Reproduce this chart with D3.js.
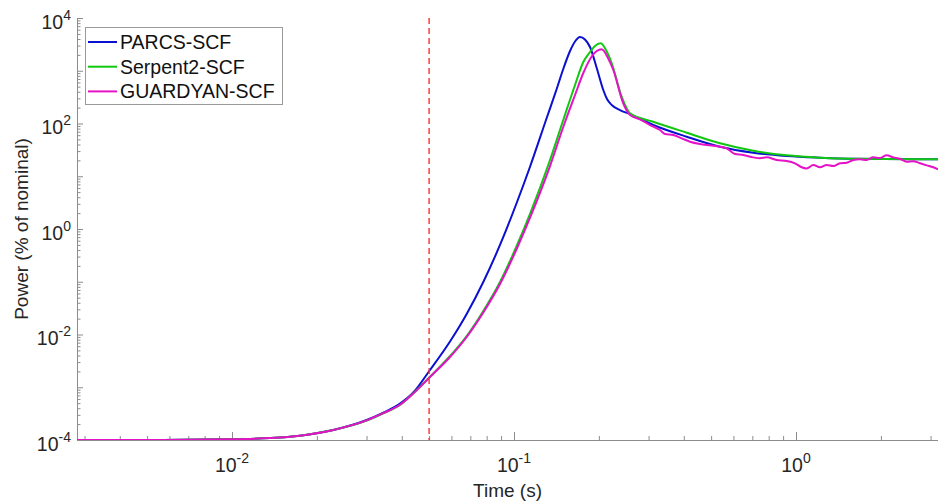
<!DOCTYPE html>
<html><head><meta charset="utf-8">
<script src="https://cdn.jsdelivr.net/npm/d3@7"></script>
<style>
body{margin:0;background:#fff}
svg{display:block}
text{font-family:"Liberation Sans",Arial,Helvetica,sans-serif}
</style>
</head><body>
<svg id="chart" width="938" height="502"></svg>
<script>
// ---------------- data ----------------
const seriesNames = ["PARCS-SCF", "Serpent2-SCF", "GUARDYAN-SCF"];

const parcsTime = [0.002821, 0.005119, 0.00968, 0.01364, 0.01742, 0.02287, 0.03004, 0.0344, 0.03942, 0.04394,
  0.05036, 0.0593, 0.06796, 0.07783, 0.0892, 0.1022, 0.1139, 0.1306, 0.1417, 0.1495,
  0.158, 0.1646, 0.1714, 0.1785, 0.186, 0.1965, 0.2073, 0.2137, 0.2221, 0.2376,
  0.2578, 0.3119, 0.4097, 0.5378, 0.7058, 0.9269, 1.216, 1.597, 3.188];
const parcsPower = [1e-4, 1e-4, 1.03e-4, 1.09e-4, 1.21e-4, 1.55e-4, 2.39e-4, 3.29e-4, 4.9e-4, 7.95e-4,
  2.12e-3, 7.37e-3, 0.0245, 0.0989, 0.498, 3.11, 15.0, 127, 451, 1079,
  2368, 3586, 4364, 3912, 2820, 1127, 431.7, 291, 224, 180,
  151, 93.7, 56.2, 36.3, 27.9, 24.2, 22.5, 21.5, 21.0];

const serpentTime = [0.002821, 0.005119, 0.00968, 0.01364, 0.01742, 0.02287, 0.03004, 0.0344, 0.03942, 0.04394,
  0.05036, 0.0593, 0.06796, 0.07783, 0.0892, 0.1022, 0.1139, 0.1342, 0.1495, 0.1646,
  0.1761, 0.186, 0.1937, 0.203, 0.2119, 0.2221, 0.2408, 0.2578, 0.3119, 0.4097,
  0.5378, 0.7058, 0.9269, 1.216, 1.597, 3.188];
const serpentPower = [1e-4, 1e-4, 1.03e-4, 1.09e-4, 1.21e-4, 1.55e-4, 2.33e-4, 3.2e-4, 4.6e-4, 7.67e-4,
  1.58e-3, 3.91e-3, 9.37e-3, 0.0279, 0.0989, 0.476, 1.92, 20.3, 116.5, 537,
  1466, 2265, 2944, 3315, 2474, 1384, 322, 156, 108, 66.9,
  42.1, 30.5, 24.9, 22.5, 21.5, 21.0];

const guardyanTime = [0.002821, 0.005119, 0.00968, 0.01364, 0.01742, 0.02287, 0.03004, 0.0344, 0.03942, 0.04394,
  0.05036, 0.0593, 0.06796, 0.07783, 0.0892, 0.1022, 0.1139, 0.1342, 0.1495, 0.1646,
  0.1761, 0.1891, 0.2046, 0.2154, 0.225, 0.244, 0.2579, 0.2797, 0.3036, 0.3294,
  0.3431, 0.3673, 0.3932, 0.4207, 0.4566, 0.4955, 0.5378, 0.5676, 0.6076, 0.6504,
  0.7059, 0.7452, 0.787, 0.8538, 0.9266, 0.9919, 1.0474, 1.0909, 1.1522, 1.2163,
  1.2848, 1.3565, 1.4322, 1.5125, 1.5969, 1.6866, 1.7806, 1.8796, 1.9861, 2.0964,
  2.2131, 2.338, 2.4686, 2.6072, 2.7529, 2.9071, 3.069, 3.188];
const guardyanPower = [1e-4, 1e-4, 1.03e-4, 1.09e-4, 1.21e-4, 1.55e-4, 2.35e-4, 3.22e-4, 4.65e-4, 7.6e-4,
  1.56e-3, 3.74e-3, 8.97e-3, 0.0261, 0.0906, 0.418, 1.62, 15.6, 85.8, 347,
  906, 1904, 2552, 1746, 1033, 241.5, 145, 119.9, 93.6, 75.3,
  63.2, 60.5, 52.3, 45.2, 40.9, 38.6, 36.4, 33.8, 26.4, 25.3,
  22.8, 21.9, 22.8, 20.3, 19.5, 17.6, 14.8, 14.1, 16.3, 14.8,
  16.3, 15.6, 17.6, 18.1, 20.3, 20.9, 20.3, 22.8, 22.2, 24.9,
  22.8, 21.5, 18.9, 19.3, 17.6, 16.1, 14.8, 13.5];

const markerTime = 0.05;
const xDomain = [0.002821, 3.188];
const yDomain = [1e-4, 1e4];
const xTickExponents = [-2, -1, 0];
const yTickExponents = [-4, -2, 0, 2, 4];
const xLabel = "Time (s)";
const yLabel = "Power (% of nominal)";

// ---------------- layout ----------------
(function () {
const colors = ["#0a10d0", "#10c810", "#e612c8"];
const svg = d3.select("#chart");
const pLeft = 77, pRight = 938, pTop = 18, pBottom = 440;

const x = d3.scaleLog().domain(xDomain).range([pLeft, pRight]);
const y = d3.scaleLog().domain(yDomain).range([pBottom, pTop]);

svg.append("defs").append("clipPath").attr("id", "clip")
  .append("rect").attr("x", pLeft).attr("y", pTop - 5).attr("width", pRight - pLeft).attr("height", pBottom - pTop + 5);

function logTicks(domain) {
  const out = [];
  const lo = Math.floor(Math.log10(domain[0])), hi = Math.ceil(Math.log10(domain[1]));
  for (let d = lo; d <= hi; d++) for (let k = 1; k <= 9; k++) {
    const v = k * Math.pow(10, d);
    if (v >= domain[0] * 0.9999 && v <= domain[1] * 1.0001) out.push(v);
  }
  return out;
}
const isDecade = v => Math.abs(Math.log10(v) - Math.round(Math.log10(v))) < 1e-6;

const axisColor = "#8c8c8c";

const gx = svg.append("g").attr("transform", `translate(0,${pBottom})`)
  .call(d3.axisBottom(x).tickValues(logTicks(xDomain)).tickSizeInner(-4).tickSizeOuter(0).tickFormat(""));
gx.select(".domain").attr("stroke", axisColor);
gx.selectAll(".tick line").attr("stroke", axisColor).attr("y2", d => isDecade(d) ? -8 : -4);

const gy = svg.append("g").attr("transform", `translate(${pLeft},0)`)
  .call(d3.axisLeft(y).tickValues(logTicks(yDomain)).tickSizeInner(-3.5).tickSizeOuter(0).tickFormat(""));
gy.select(".domain").attr("stroke", axisColor);
gy.selectAll(".tick line").attr("stroke", axisColor).attr("x2", d => isDecade(d) ? 6 : 3.5);

const txtColor = "#262626";
xTickExponents.forEach(e => {
  const t = svg.append("text").attr("x", x(Math.pow(10, e))).attr("y", 471.5)
    .attr("text-anchor", "middle").attr("fill", txtColor).style("font-size", "19.5px");
  t.append("tspan").text("10");
  t.append("tspan").attr("dy", -9).style("font-size", "14px").text(String(e));
});
yTickExponents.forEach(e => {
  const t = svg.append("text").attr("x", 71).attr("y", y(Math.pow(10, e)) + 10.5)
    .attr("text-anchor", "end").attr("fill", txtColor).style("font-size", "19.5px");
  t.append("tspan").text("10");
  t.append("tspan").attr("dy", -9).style("font-size", "14px").text(String(e));
});

svg.append("text").attr("x", (pLeft + pRight) / 2).attr("y", 496.5).attr("text-anchor", "middle")
  .attr("fill", txtColor).style("font-size", "19px").text(xLabel);
svg.append("text").attr("transform", `translate(28,229) rotate(-90)`).attr("text-anchor", "middle")
  .attr("fill", txtColor).style("font-size", "19px").text(yLabel);

const series = [
  {name: seriesNames[0], t: parcsTime, v: parcsPower, c: colors[0]},
  {name: seriesNames[1], t: serpentTime, v: serpentPower, c: colors[1]},
  {name: seriesNames[2], t: guardyanTime, v: guardyanPower, c: colors[2]}
];
const line = d3.line().x(d => x(d[0])).y(d => y(d[1])).curve(d3.curveMonotoneX);
const plot = svg.append("g").attr("clip-path", "url(#clip)");
series.forEach(s => {
  plot.append("path").datum(s.t.map((t, i) => [t, s.v[i]]))
    .attr("d", line).attr("fill", "none").attr("stroke", s.c).attr("stroke-width", 2)
    .attr("stroke-linejoin", "round");
});

svg.append("line").attr("x1", x(markerTime)).attr("x2", x(markerTime))
  .attr("y1", pTop).attr("y2", pBottom)
  .attr("stroke", "#ff3030").attr("stroke-width", 1.4).attr("stroke-dasharray", "6,4");

const lg = svg.append("g");
lg.append("rect").attr("x", 85.5).attr("y", 27.5).attr("width", 197).attr("height", 77)
  .attr("fill", "#fff").attr("stroke", "#9a9a9a").attr("stroke-width", 1);
series.forEach((s, i) => {
  const cy = 42 + i * 24.7;
  lg.append("line").attr("x1", 88).attr("x2", 117).attr("y1", cy).attr("y2", cy)
    .attr("stroke", s.c).attr("stroke-width", 2);
  lg.append("text").attr("x", 120).attr("y", cy + 7).attr("fill", "#111")
    .style("font-size", "19.5px").text(s.name);
});
})();
</script>
</body></html>
